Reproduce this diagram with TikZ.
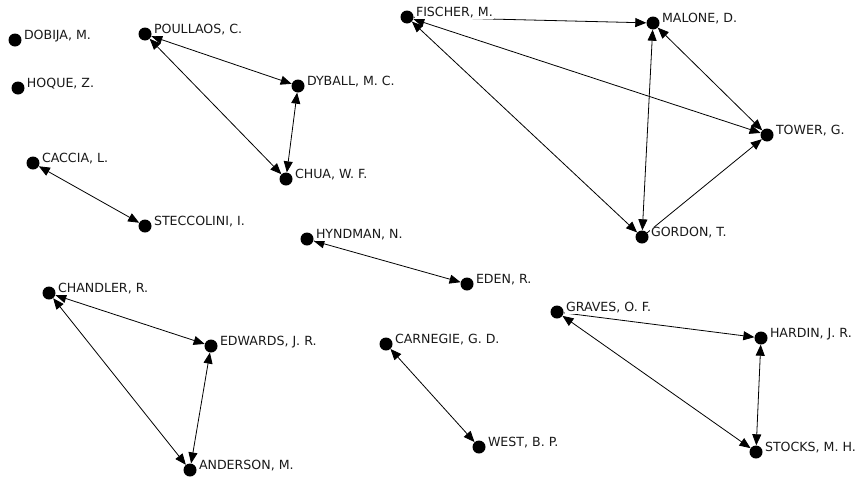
\documentclass[tikz,border=0pt]{standalone}
\usepackage{fontspec}
\setmainfont{DejaVu Sans}
\usetikzlibrary{arrows.meta}
\begin{document}
\begin{tikzpicture}[x=1pt,y=-1pt,
  dot/.style={circle,fill=black,inner sep=0pt,minimum size=13pt},
  lab/.style={anchor=west,fill=white,inner sep=0.8pt,font=\fontsize{12.6}{13}\selectfont,text=black!90},
  tip/.tip={Triangle[length=11pt,width=9pt]},
  both/.style={{tip}-{tip},line width=0.8pt},
  one/.style={-{tip},line width=0.8pt}]
\useasboundingbox (0,0) rectangle (861,477);
% nodes (dots)
\node[dot] (dob) at (15,40) {};
\node[dot] (hoq) at (18,88) {};
\node[dot] (pou) at (145,34) {};
\node[dot] (dyb) at (298,86) {};
\node[dot] (chu) at (286,179) {};
\node[dot] (cac) at (33,163) {};
\node[dot] (ste) at (145,226) {};
\node[dot] (fis) at (407,17) {};
\node[dot] (mal) at (653,23) {};
\node[dot] (tow) at (767,135) {};
\node[dot] (gor) at (642,237) {};
\node[dot] (hyn) at (307,239) {};
\node[dot] (ede) at (467,284) {};
\node[dot] (cha) at (49,293) {};
\node[dot] (edw) at (211,346) {};
\node[dot] (and) at (190,470) {};
\node[dot] (car) at (386,344) {};
\node[dot] (wes) at (479,447) {};
\node[dot] (gra) at (557,312) {};
\node[dot] (har) at (761,338) {};
\node[dot] (sto) at (756,452) {};
% edges
\draw[both] (pou) -- (dyb);
\draw[both] (pou) -- (chu);
\draw[both] (dyb) -- (chu);
\draw[both] (cac) -- (ste);
\draw[one] (fis) -- (mal);
\draw[both] (fis) -- (tow);
\draw[both] (fis) -- (gor);
\draw[both] (mal) -- (gor);
\draw[both] (mal) -- (tow);
\draw[one] (gor) -- (tow);
\draw[both] (hyn) -- (ede);
\draw[both] (cha) -- (edw);
\draw[both] (cha) -- (and);
\draw[both] (edw) -- (and);
\draw[both] (car) -- (wes);
\draw[one] (gra) -- (har);
\draw[both] (gra) -- (sto);
\draw[both] (har) -- (sto);
% labels
\node[lab] (ldob) at ([shift={(8,-4)}]dob.center) {DOBIJA, M.};
\node[lab] (lhoq) at ([shift={(8,-4)}]hoq.center) {HOQUE, Z.};
\node[lab] (lpou) at ([shift={(8,-4)}]pou.center) {POULLAOS, C.};
\node[lab] (ldyb) at ([shift={(8,-4)}]dyb.center) {DYBALL, M. C.};
\node[lab] (lchu) at ([shift={(8,-4)}]chu.center) {CHUA, W. F.};
\node[lab] (lcac) at ([shift={(8,-4)}]cac.center) {CACCIA, L.};
\node[lab] (lste) at ([shift={(8,-4)}]ste.center) {STECCOLINI, I.};
\node[lab] (lfis) at ([shift={(8,-4)}]fis.center) {FISCHER, M.};
\node[lab] (lmal) at ([shift={(8,-4)}]mal.center) {MALONE, D.};
\node[lab] (ltow) at ([shift={(8,-4)}]tow.center) {TOWER, G.};
\node[lab] (lgor) at ([shift={(8,-4)}]gor.center) {GORDON, T.};
\node[lab] (lhyn) at ([shift={(8,-4)}]hyn.center) {HYNDMAN, N.};
\node[lab] (lede) at ([shift={(8,-4)}]ede.center) {EDEN, R.};
\node[lab] (lcha) at ([shift={(8,-4)}]cha.center) {CHANDLER, R.};
\node[lab] (ledw) at ([shift={(8,-4)}]edw.center) {EDWARDS, J. R.};
\node[lab] (land) at ([shift={(8,-4)}]and.center) {ANDERSON, M.};
\node[lab] (lcar) at ([shift={(8,-4)}]car.center) {CARNEGIE, G. D.};
\node[lab] (lwes) at ([shift={(8,-4)}]wes.center) {WEST, B. P.};
\node[lab] (lgra) at ([shift={(8,-4)}]gra.center) {GRAVES, O. F.};
\node[lab] (lhar) at ([shift={(8,-4)}]har.center) {HARDIN, J. R.};
\node[lab] (lsto) at ([shift={(8,-4)}]sto.center) {STOCKS, M. H.};
\end{tikzpicture}
\end{document}
